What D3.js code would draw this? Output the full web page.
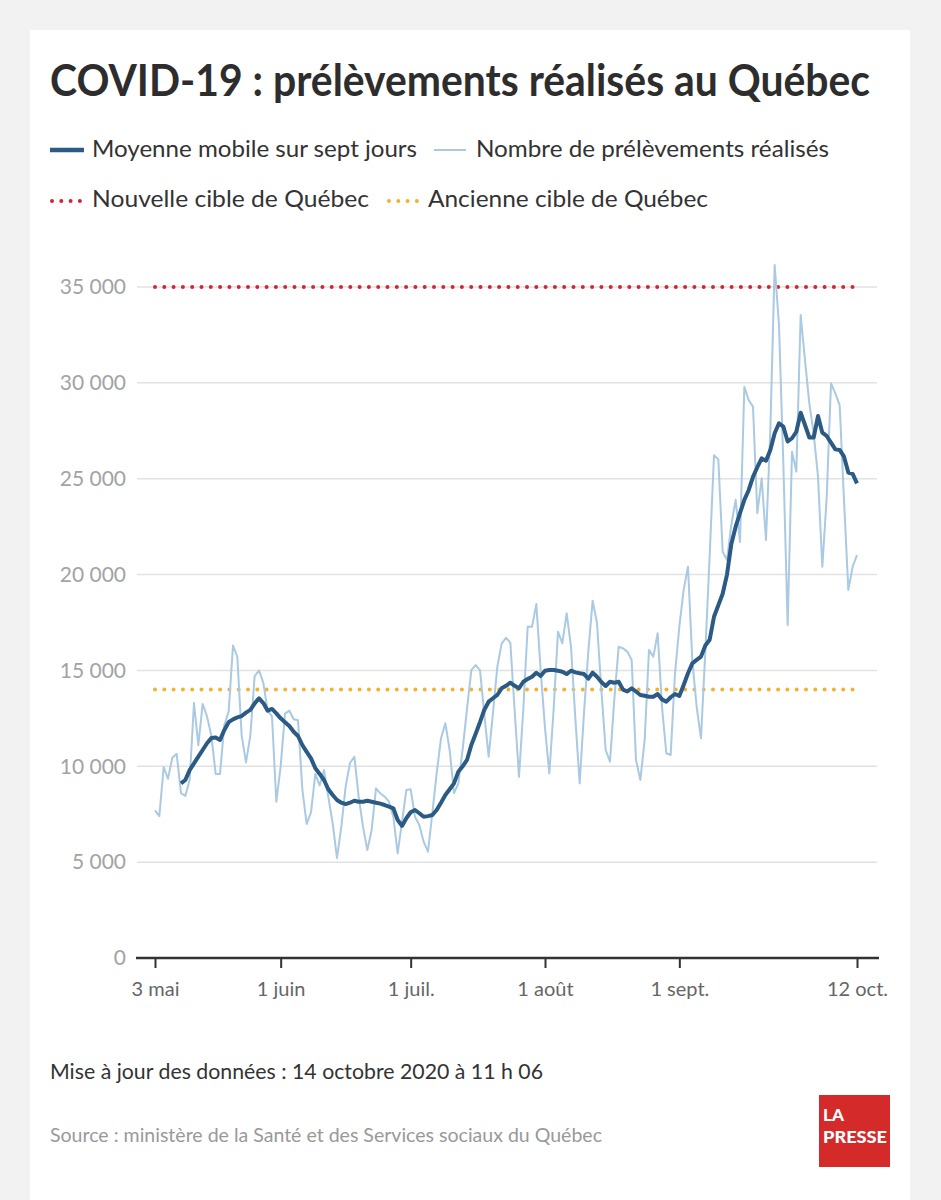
<!DOCTYPE html>
<html lang="fr">
<head>
<meta charset="UTF-8">
<title>COVID-19 : prélèvements réalisés au Québec</title>
<script src="https://d3js.org/d3.v7.min.js"></script>
<style>
  body { margin: 0; background: #f2f2f2; font-family: Lato, "Open Sans", sans-serif; }
  svg { display: block; }
  .grid line { stroke: #e2e2e2; stroke-width: 1.5; }
</style>
</head>
<body>
<svg width="941" height="1200"></svg>
<script>
// --- données ---
const debut = "2020-05-03";          // premier jour des prélèvements
const debutMoyenne = "2020-05-09";   // premier jour de la moyenne mobile

// Nombre de prélèvements réalisés, un par jour depuis le 3 mai
const prelevements = [
  7700, 7400, 9950, 9350, 10450, 10650, 8600, 8450, 9300, 13300,
  11100, 13250, 12600, 11600, 9600, 9600, 12150, 12850, 16300, 15700,
  11600, 10200, 11600, 14700, 15000, 14350, 12900, 12600, 8150, 10000,
  12750, 12900, 12450, 12400, 8800, 7000, 7600, 9600, 9000, 9800,
  8400, 7030, 5215, 6850, 8950, 10170, 10500, 8415, 6850, 5630,
  6680, 8850, 8590, 8415, 8155, 7370, 5460, 7100, 8760, 8800,
  7370, 6940, 6070, 5545, 7550, 9630, 11450, 12250, 10850, 8600,
  9100, 10900, 13000, 15020, 15280, 15020, 12700, 10500, 12800, 15200,
  16400, 16700, 16450, 12900, 9450, 13000, 17280, 17280, 18460, 15000,
  12000, 9630, 13000, 17020, 16410, 17980, 16240, 12500, 9110, 12800,
  16000, 18640, 17460, 14000, 10850, 10240, 13500, 16240, 16150, 15980,
  15540, 10330, 9285, 11370, 16070, 15720, 16940, 13100, 10680, 10590,
  14850, 17280, 19200, 20410, 15500, 13100, 11460, 16000, 21000, 26230,
  26010, 21190, 20760, 22600, 23900, 21700, 29800, 29100, 28760, 23200,
  25020, 21800, 27500, 36150, 33000, 25800, 17370, 26400, 25370, 33540,
  31190, 28930, 27370, 25110, 20410, 24000, 29980, 29450, 28840, 23890,
  19200, 20410, 21020
];

// Moyenne mobile sur sept jours, un par jour depuis le 9 mai
const moyenne = [
  9110, 9285, 9800, 10150, 10500, 10850, 11200, 11470, 11500, 11370,
  11890, 12300, 12450, 12550, 12620, 12800, 12940, 13280, 13545, 13300,
  12900, 12990, 12760, 12500, 12300, 12100, 11800, 11580, 11110, 10750,
  10415, 9900, 9600, 9285, 8800, 8500, 8240, 8100, 8030, 8100,
  8200, 8150, 8150, 8200, 8150, 8100, 8050, 7980, 7900, 7810,
  7200, 6890, 7290, 7600, 7720, 7550, 7370, 7400, 7460, 7720,
  8100, 8500, 8800, 9110, 9720, 10000, 10330, 11110, 11700, 12300,
  12950, 13370, 13550, 13720, 14070, 14200, 14360, 14200, 14070, 14410,
  14550, 14670, 14880, 14710, 14985, 15020, 15020, 14980, 14930, 14810,
  14985, 14900, 14850, 14810, 14570, 14880, 14670, 14400, 14190, 14410,
  14360, 14410, 14000, 13900, 14070, 13900, 13720, 13680, 13630, 13630,
  13770, 13490, 13370, 13600, 13770, 13670, 14240, 14850, 15370, 15550,
  15720, 16300, 16600, 17800, 18400, 19000, 20000, 21600, 22500, 23200,
  23900, 24400, 25100, 25600, 26060, 25940, 26500, 27370, 27890, 27720,
  26940, 27110, 27450, 28440, 27800, 27150, 27150, 28270, 27400, 27230,
  26880, 26530, 26500, 26150, 25320, 25250, 24760
];

const cibles = [35000, 14000];                       // nouvelle, ancienne
const cibleLabels = ["Nouvelle cible de Québec", "Ancienne cible de Québec"];
const yTicks = [0, 5000, 10000, 15000, 20000, 25000, 30000, 35000];
const xTickDates = ["2020-05-03", "2020-06-01", "2020-07-01", "2020-08-01", "2020-09-01", "2020-10-12"];
const xTickLabels = ["3 mai", "1 juin", "1 juil.", "1 août", "1 sept.", "12 oct."];

// --- mise en page ---
const svg = d3.select("svg");
const colMoy = "#2b5a84", colJour = "#a9cae2", colRouge = "#d3252f", colOrange = "#f5b12e";

svg.append("rect").attr("x", 30).attr("y", 30).attr("width", 880).attr("height", 1170).attr("fill", "#fff");

const parse = d3.utcParse("%Y-%m-%d");
const t0 = parse(debut), tm = parse(debutMoyenne);
const jours = prelevements.map((v, i) => ({ date: d3.utcDay.offset(t0, i), v }));
const moy = moyenne.map((v, i) => ({ date: d3.utcDay.offset(tm, i), v }));

const x = d3.scaleUtc()
  .domain([t0, jours[jours.length - 1].date])
  .range([155, 857]);
const y = d3.scaleLinear().domain([0, 35000]).range([958, 287]);

// texte ajusté à la largeur voulue
function texte(str, tx, ty, size, weight, color, width) {
  const t = svg.append("text")
    .attr("x", tx).attr("y", ty)
    .attr("font-size", size).attr("font-weight", weight)
    .attr("fill", color).text(str);
  if (width) t.attr("textLength", width).attr("lengthAdjust", "spacingAndGlyphs");
  return t;
}

// titre
texte("COVID-19 : prélèvements réalisés au Québec", 50, 96, 44, 700, "#2d2d2d", 820);

// légende
svg.append("line").attr("x1", 50).attr("x2", 84).attr("y1", 150).attr("y2", 150)
  .attr("stroke", colMoy).attr("stroke-width", 4.5);
texte("Moyenne mobile sur sept jours", 92, 157, 24, 400, "#333", 325);
svg.append("line").attr("x1", 434).attr("x2", 466).attr("y1", 150).attr("y2", 150)
  .attr("stroke", colJour).attr("stroke-width", 2);
texte("Nombre de prélèvements réalisés", 476, 157, 24, 400, "#333", 353);

const dots = (g, x1, x2, yy, col) => g.append("line")
  .attr("x1", x1).attr("x2", x2).attr("y1", yy).attr("y2", yy)
  .attr("stroke", col).attr("stroke-width", 4)
  .attr("stroke-linecap", "round").attr("stroke-dasharray", "0,9.3");

dots(svg, 52, 84, 201, colRouge);
texte(cibleLabels[0], 92, 207, 24, 400, "#333", 277);
dots(svg, 389, 421, 201, colOrange);
texte(cibleLabels[1], 428, 207, 24, 400, "#333", 280);

// grille
const fr = d3.formatLocale({ decimal: ",", thousands: " ", grouping: [3], currency: ["", " $"] });
const fmt = fr.format(",");

svg.append("g").attr("class", "grid")
  .selectAll("line").data(yTicks.filter(d => d > 0)).join("line")
  .attr("x1", 137).attr("x2", 877)
  .attr("y1", d => y(d)).attr("y2", d => y(d));

svg.append("g").selectAll("text").data(yTicks).join("text")
  .attr("x", 126).attr("y", d => y(d)).attr("dy", "0.35em")
  .attr("text-anchor", "end").attr("font-size", 21).attr("fill", "#a3a3a3")
  .text(d => fmt(d));

// cibles
cibles.forEach((c, i) => dots(svg, x.range()[0], x.range()[1], y(c), i === 0 ? colRouge : colOrange));

// séries
const line = d3.line().x(d => x(d.date)).y(d => y(d.v));
svg.append("path").datum(jours).attr("d", line)
  .attr("fill", "none").attr("stroke", colJour).attr("stroke-width", 2).attr("stroke-linejoin", "round");
svg.append("path").datum(moy).attr("d", line)
  .attr("fill", "none").attr("stroke", colMoy).attr("stroke-width", 4).attr("stroke-linejoin", "round");

// axe des x
const xAxis = d3.axisBottom(x)
  .tickValues(xTickDates.map(parse))
  .tickFormat((d, i) => xTickLabels[i])
  .tickSize(10).tickPadding(14);
const gx = svg.append("g").attr("transform", `translate(0,${y(0)})`).call(xAxis);
gx.select(".domain").remove();
gx.selectAll(".tick line").attr("stroke", "#333").attr("stroke-width", 2);
gx.selectAll(".tick text").attr("font-size", 20).attr("fill", "#666").attr("font-family", "Lato, sans-serif");
svg.append("line").attr("x1", 136).attr("x2", 879).attr("y1", y(0)).attr("y2", y(0))
  .attr("stroke", "#333").attr("stroke-width", 2.5);

// pied
texte("Mise à jour des données : 14 octobre 2020 à 11 h 06", 50, 1079, 22, 400, "#333", 493);
texte("Source : ministère de la Santé et des Services sociaux du Québec", 50, 1142, 20, 400, "#999", 552);

// logo
svg.append("rect").attr("x", 819).attr("y", 1095).attr("width", 71).attr("height", 72).attr("fill", "#d42a2a");
texte("LA", 823, 1121, 16, 900, "#fff", 21);
texte("PRESSE", 823, 1143, 16, 900, "#fff", 64);
</script>
</body>
</html>
